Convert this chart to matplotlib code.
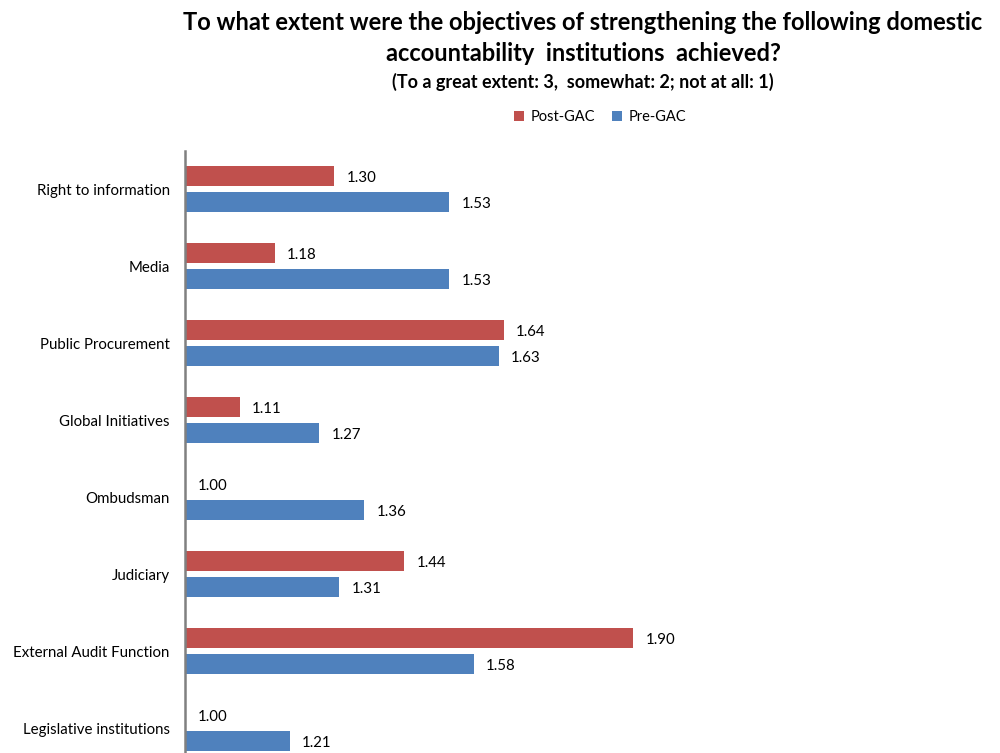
import matplotlib.pyplot as plt
import numpy as np

# chart data
categories = ["Right to information", "Media", "Public Procurement",
              "Global Initiatives", "Ombudsman", "Judiciary",
              "External Audit Function", "Legislative institutions"]
post_gac = [1.30, 1.18, 1.64, 1.11, 1.00, 1.44, 1.90, 1.00]
pre_gac = [1.53, 1.53, 1.63, 1.27, 1.36, 1.31, 1.58, 1.21]

RED = "#C0504D"
BLUE = "#4F81BD"
FONT = "Lato"


def main():
    fig = plt.figure(figsize=(10, 7.53), dpi=100)
    ax = fig.add_axes([0.185, -0.018, 0.815, 0.818])

    y = np.arange(len(categories))
    h = 0.26
    ax.barh(y - 0.17, np.array(post_gac) - 1, height=h, left=1,
            color=RED, label="Post-GAC")
    ax.barh(y + 0.17, np.array(pre_gac) - 1, height=h, left=1,
            color=BLUE, label="Pre-GAC")

    # value labels
    for i, v in enumerate(post_gac):
        ax.text(v + 0.025, i - 0.17 + 0.02, f"{v:.2f}", va="center", ha="left",
                fontsize=10.8, family=FONT)
    for i, v in enumerate(pre_gac):
        ax.text(v + 0.025, i + 0.17 + 0.03, f"{v:.2f}", va="center", ha="left",
                fontsize=10.8, family=FONT)

    ax.set_xlim(1, 2.637)
    ax.set_ylim(len(categories) - 0.5, -0.5)
    ax.set_yticks(y)
    ax.set_yticklabels(categories, family=FONT, fontsize=10.8)
    ax.tick_params(axis="y", length=0, pad=11)
    ax.set_xticks([])
    for s in ["top", "right", "bottom"]:
        ax.spines[s].set_visible(False)
    ax.spines["left"].set_color("#808080")
    ax.spines["left"].set_linewidth(1.8)

    fig.text(0.583, 0.970, "To what extent were the objectives of strengthening the following domestic",
             ha="center", va="center", fontsize=17, fontweight="bold", family=FONT)
    fig.text(0.583, 0.929, "accountability  institutions  achieved?",
             ha="center", va="center", fontsize=17, fontweight="bold", family=FONT)
    fig.text(0.583, 0.891, "(To a great extent: 3,  somewhat: 2; not at all: 1)",
             ha="center", va="center", fontsize=13, fontweight="bold", family=FONT)

    ax.legend(loc="center", bbox_to_anchor=(0.600, 1 - 117 / 753), bbox_transform=fig.transFigure,
              ncol=2, frameon=False, handlelength=0.7, handleheight=0.7,
              handletextpad=0.4, columnspacing=1.2, prop={"family": FONT, "size": 10.5})

    fig.savefig("out.png", dpi=100)
    plt.close(fig)


if __name__ == "__main__":
    main()
